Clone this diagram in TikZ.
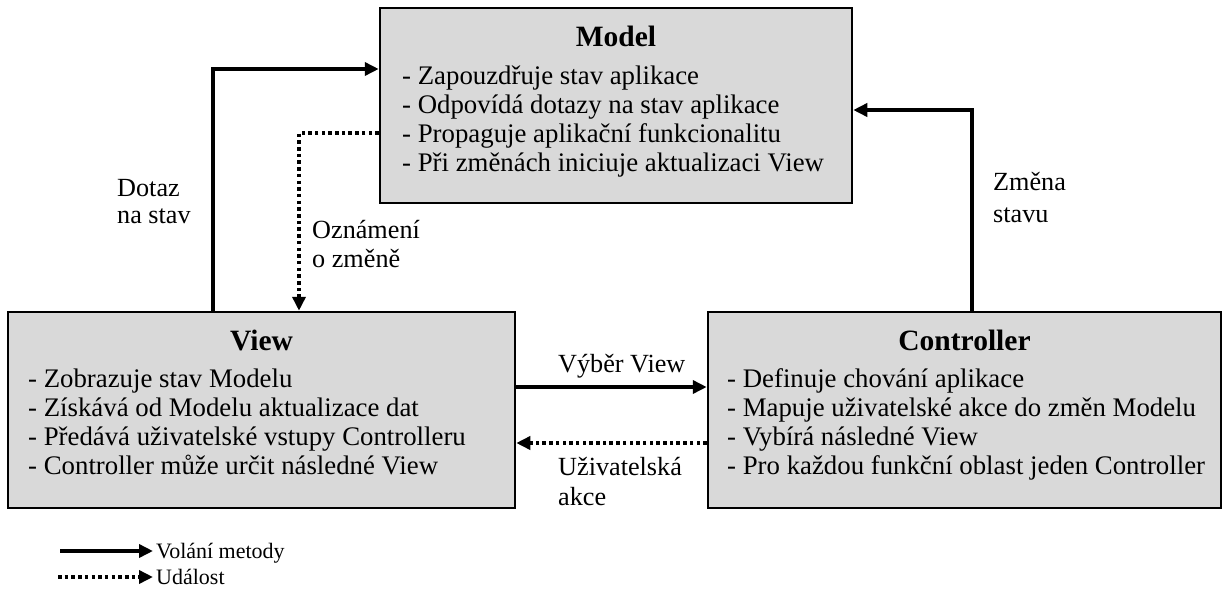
\documentclass[tikz,border=0pt]{standalone}
\usepackage{fontspec}
\setmainfont{Liberation Serif}
\usetikzlibrary{arrows.meta}
\definecolor{boxgray}{RGB}{217,217,217}
\begin{document}
\begin{tikzpicture}[x=1pt,y=-1pt,
  box/.style={draw=black, line width=2.5pt, fill=boxgray, rectangle, inner sep=0pt},
  title/.style={anchor=base, font=\fontsize{29.5}{33}\selectfont\bfseries, inner sep=0pt},
  item/.style={anchor=base west, font=\fontsize{26.8}{30}\selectfont, inner sep=0pt},
  lbl/.style={anchor=base west, font=\fontsize{26.2}{30}\selectfont, inner sep=0pt},
  key/.style={anchor=base west, font=\fontsize{22}{25}\selectfont, inner sep=0pt},
  tip/.style={-{Triangle[length=14pt,width=13pt]}},
  call/.style={line width=3.5pt, tip},
  event/.style={line width=3.5pt, dash pattern=on 3.5pt off 3.2pt, tip},
]
\useasboundingbox (0,0) rectangle (1224,600);

% component boxes
\node[box, minimum width=472pt, minimum height=195pt] (model) at (616,105.5) {};
\node[box, minimum width=507pt, minimum height=196pt] (view) at (261.5,410) {};
\node[box, minimum width=513pt, minimum height=196pt] (ctrl) at (964.5,410) {};

% Model
\node[title] (mt) at (616,46) {Model};
\foreach \t [count=\i] in {%
  - Zapouzdřuje stav aplikace,
  - Odpovídá dotazy na stav aplikace,
  - Propaguje aplikační funkcionalitu,
  - Při změnách iniciuje aktualizaci View}
  \node[item] (m\i) at (402,{84+29.2*(\i-1)}) {\t};

% View
\node[title] (vt) at (261.5,350) {View};
\foreach \t [count=\i] in {%
  - Zobrazuje stav Modelu,
  - Získává od Modelu aktualizace dat,
  - Předává uživatelské vstupy Controlleru,
  - Controller může určit následné View}
  \node[item] (v\i) at (28,{387+29.2*(\i-1)}) {\t};

% Controller
\node[title] (ct) at (964.5,350) {Controller};
\foreach \t [count=\i] in {%
  - Definuje chování aplikace,
  - Mapuje uživatelské akce do změn Modelu,
  - Vybírá následné View,
  - Pro každou funkční oblast jeden Controller}
  \node[item] (c\i) at (727,{387+29.2*(\i-1)}) {\t};

% bends of the connectors
\coordinate (qa) at (213,69);
\coordinate (na) at (299,133);
\coordinate (ch) at (972,110);
\coordinate (sv) at (612,387);
\coordinate (ua) at (612,443);

% View queries the Model
\draw[call] (qa |- view.north) -- (qa) -- (qa -| model.west);
% Model notifies the View
\draw[event] (na -| model.west) -- (na) -- (na |- view.north);
% Controller changes the Model
\draw[call] (ch |- ctrl.north) -- (ch) -- (ch -| model.east);
% Controller selects the View
\draw[call] (sv -| view.east) -- (sv -| ctrl.west);
% user action from Controller side to View
\draw[event] (ua -| ctrl.west) -- (ua -| view.east);

% connector labels
\node[lbl] (d1) at (117,196) {Dotaz};
\node[lbl] (d2) at (117,223) {na stav};
\node[lbl] (o1) at (312,238) {Oznámení};
\node[lbl] (o2) at (312,267) {o změně};
\node[lbl] (z1) at (993,190) {Změna};
\node[lbl] (z2) at (993,222) {stavu};
\node[lbl] (vv) at (558,372) {Výběr View};
\node[lbl] (u1) at (558,475) {Uživatelská};
\node[lbl] (u2) at (558,505) {akce};

% legend
\node[key] (lg1) at (156,558.5) {Volání metody};
\node[key] (lg2) at (156,584.5) {Událost};
\coordinate (ls) at (60,551);
\coordinate (le) at (58,577);
\draw[call, shorten >=3pt] (ls) -- (ls -| lg1.west);
\draw[event, shorten >=3pt] (le) -- (le -| lg2.west);
\end{tikzpicture}
\end{document}
